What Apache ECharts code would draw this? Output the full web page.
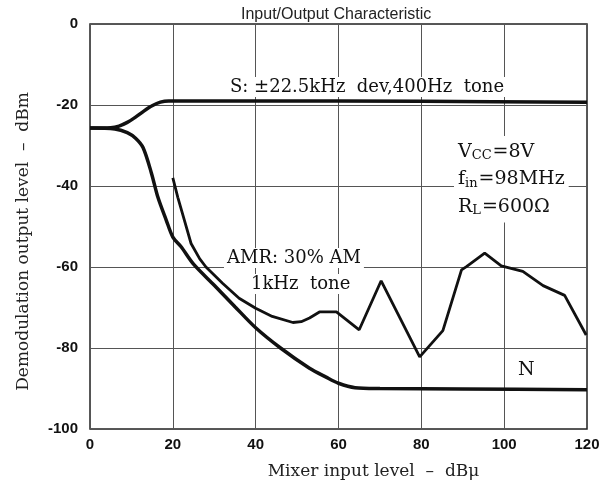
<!DOCTYPE html>
<html>
<head>
<meta charset="utf-8">
<script src="https://cdn.jsdelivr.net/npm/echarts@6/dist/echarts.min.js"></script>
<style>
  html, body { margin: 0; padding: 0; background: #fff; }
  #chart { width: 613px; height: 490px; }
</style>
</head>
<body>
<div id="chart"></div>
<script>
// x ticks: mixer input level (dBμ), y ticks: demodulation output (dBm)
const xTicks = [0, 20, 40, 60, 80, 100, 120];
const yTicks = [0, -20, -40, -60, -80, -100];

// S: ±22.5kHz dev, 400Hz tone
const sCurve = [[0, -25.7], [5, -25.6], [7, -25.2], [9, -24.3], [11, -23], [13, -21.5],
  [15, -20.2], [17, -19.3], [19, -19], [40, -19], [80, -19.1], [120, -19.3]];

// N (noise)
const nCurve = [[0, -25.7], [6, -25.9], [9, -26.8], [11, -28.2], [12.8, -30.5], [14.8, -36.7],
  [16.4, -42.8], [18.4, -48.4], [20, -52.6], [22, -55], [25, -59.3], [30, -64.5], [35, -69.8],
  [40, -75], [46, -80], [53, -85], [57, -87.2], [60, -88.7], [64, -89.8], [70, -90],
  [90, -90.1], [120, -90.3]];

// AMR: 30% AM, 1kHz tone
const amrCurve = [[20, -38], [21.2, -42.8], [22.8, -48.5], [24.4, -54.2], [26.5, -58], [28, -60],
  [32, -64], [36, -67.7], [40, -70.2], [44, -72.2], [49, -73.7], [51, -73.5], [53, -72.6],
  [55.4, -71.1], [59.5, -71.1], [65, -75.5], [70.3, -63.4], [79.6, -82.2], [82, -79.4],
  [85.2, -75.7], [89.7, -60.7], [90.9, -59.9], [95.3, -56.6], [99.3, -59.7], [104.5, -61.1],
  [109.4, -64.6], [114.6, -67], [119.8, -76.8]];

const serif = "'DejaVu Serif', 'Liberation Serif', serif";
const sans = "'Liberation Sans', Arial, sans-serif";

const myChart = echarts.init(document.getElementById("chart"));
myChart.setOption({
  animation: false,
  backgroundColor: "#fff",
  title: {
    text: "Input/Output Characteristic",
    left: 236,
    top: 2,
    textStyle: { fontFamily: sans, fontSize: 16, fontWeight: "normal", color: "#222" }
  },
  grid: { left: 90, right: 26, top: 24, bottom: 61, show: true, borderColor: "#222", borderWidth: 1.5 },
  xAxis: {
    type: "value",
    min: xTicks[0],
    max: xTicks[xTicks.length - 1],
    interval: 20,
    name: "Mixer input level  –  dBμ",
    nameLocation: "middle",
    nameGap: 34,
    nameTextStyle: { fontFamily: serif, fontSize: 17, color: "#222", padding: [0, 0, 0, 70] },
    axisLine: { show: false },
    axisTick: { show: false },
    axisLabel: { margin: 8, fontFamily: sans, fontSize: 15, fontWeight: "bold", color: "#111" },
    splitLine: { show: true, lineStyle: { color: "#555", width: 1 } }
  },
  yAxis: {
    type: "value",
    min: yTicks[yTicks.length - 1],
    max: yTicks[0],
    interval: 20,
    name: "Demodulation output level  –  dBm",
    nameLocation: "middle",
    nameGap: 58,
    nameTextStyle: { fontFamily: serif, fontSize: 17, color: "#222", padding: [0, 30, 0, 0] },
    axisLine: { show: false },
    axisTick: { show: false },
    axisLabel: { margin: 12, fontFamily: sans, fontSize: 15, fontWeight: "bold", color: "#111" },
    splitLine: { show: true, lineStyle: { color: "#555", width: 1 } }
  },
  series: [
    {
      name: "S", type: "line", data: sCurve, smooth: 0.3, showSymbol: false,
      lineStyle: { color: "#111", width: 3.5 }, z: 3
    },
    {
      name: "N", type: "line", data: nCurve, smooth: 0.3, showSymbol: false,
      lineStyle: { color: "#111", width: 3.5 }, z: 3
    },
    {
      name: "AMR", type: "line", data: amrCurve, smooth: false, showSymbol: false,
      lineStyle: { color: "#111", width: 2.8 }, z: 3
    }
  ],
  graphic: [
    {
      type: "text", left: 228, top: 77, z: 1,
      style: {
        text: "S: ±22.5kHz  dev,400Hz  tone",
        fontFamily: serif, fontSize: 18, fill: "#111",
        backgroundColor: "#fff", padding: [1, 2]
      }
    },
    {
      type: "text", left: 454, top: 136, z: 1,
      style: {
        text: "{a|V}{s|CC}{a|=8V}\n{a|f}{s|in}{a|=98MHz}\n{a|R}{s|L}{a|=600Ω}",
        backgroundColor: "#fff", padding: [2, 4],
        rich: {
          a: { fontFamily: serif, fontSize: 19, fill: "#111", lineHeight: 27.5 },
          s: { fontFamily: serif, fontSize: 13, fill: "#111", lineHeight: 27.5, padding: [8, 1, 0, 0] }
        }
      }
    },
    {
      type: "text", left: 224, top: 248, z: 1,
      style: {
        text: "AMR: 30% AM",
        fontFamily: serif, fontSize: 18, fill: "#111",
        backgroundColor: "#fff", padding: [1, 3]
      }
    },
    {
      type: "text", left: 248, top: 274, z: 1,
      style: {
        text: "1kHz  tone",
        fontFamily: serif, fontSize: 18, fill: "#111",
        backgroundColor: "#fff", padding: [1, 3]
      }
    },
    {
      type: "text", left: 518, top: 361, z: 1,
      style: { text: "N", fontFamily: serif, fontSize: 19, fill: "#111" }
    }
  ]
});
window.addEventListener("resize", () => {
  myChart.resize();
});
</script>
</body>
</html>
